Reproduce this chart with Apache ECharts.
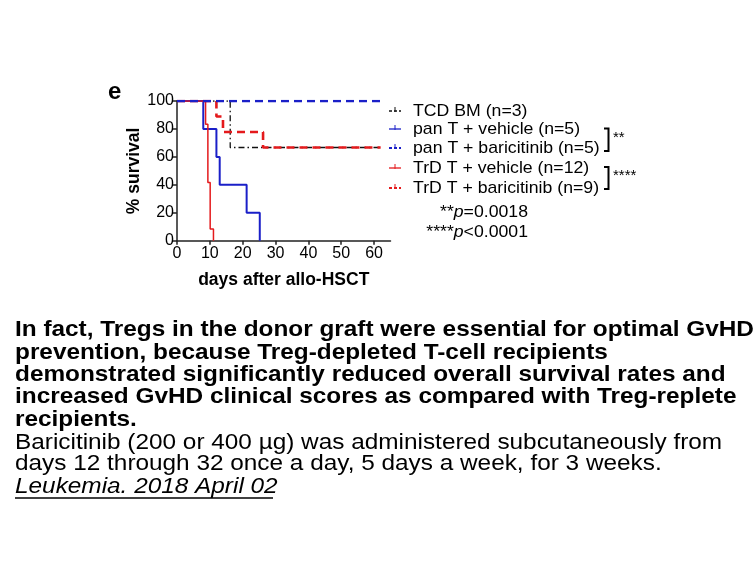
<!DOCTYPE html>
<html><head><meta charset="utf-8">
<script src="https://cdn.jsdelivr.net/npm/echarts@6/dist/echarts.min.js"></script>
<style>html,body{margin:0;padding:0;background:#fff}#c{width:756px;height:567px}</style>
</head><body><div id="c"></div>
<script>
// ---- data ----
const xTicks = [0, 10, 20, 30, 40, 50, 60];
const yTicks = [0, 20, 40, 60, 80, 100];
const tcdDays = [0, 16.2, 62];            const tcdSurv = [100, 66.7, 66.7];
const panVehDays = [0, 8, 12, 13, 21.2, 25.2]; const panVehSurv = [100, 80, 60, 40, 20, 0];
const panBarDays = [0, 62];               const panBarSurv = [100, 100];
const trdVehDays = [0, 8.7, 9.4, 10.1, 11.1]; const trdVehSurv = [100, 83.3, 41.7, 8.3, 0];
const trdBarDays = [0, 12, 14, 26.2, 62]; const trdBarSurv = [100, 88.9, 77.8, 66.7, 66.7];
const legendNames = ['TCD BM (n=3)', 'pan T + vehicle (n=5)', 'pan T + baricitinib (n=5)', 'TrD T + vehicle (n=12)', 'TrD T + baricitinib (n=9)'];
const pTexts = ['**', '****'];
const paraBold = [
  'In fact, Tregs in the donor graft were essential for optimal GvHD',
  'prevention, because Treg-depleted T-cell recipients',
  'demonstrated significantly reduced overall survival rates and',
  'increased GvHD clinical scores as compared with Treg-replete',
  'recipients.'
];
const paraReg = [
  'Baricitinib (200 or 400 µg) was administered subcutaneously from',
  'days 12 through 32 once a day, 5 days a week, for 3 weeks.'
];
const citation = 'Leukemia. 2018 April 02';

const zip = (a, b) => a.map((v, i) => [v, b[i]]);
const BLUE = '#1a1fc8', RED = '#e41a1c', BLACK = '#111';
const F = 'Liberation Sans, Arial, sans-serif';

const chart = echarts.init(document.getElementById('c'), null, {renderer: 'canvas'});

const seriesDefs = [
  {name: legendNames[0], d: zip(tcdDays, tcdSurv), color: BLACK, w: 1.3, type: [6, 3, 1.5, 3]},
  {name: legendNames[1], d: zip(panVehDays, panVehSurv), color: BLUE, w: 2, type: 'solid'},
  {name: legendNames[2], d: zip(panBarDays, panBarSurv), color: BLUE, w: 2.6, type: [8, 5]},
  {name: legendNames[3], d: zip(trdVehDays, trdVehSurv), color: RED, w: 1.5, type: 'solid'},
  {name: legendNames[4], d: zip(trdBarDays, trdBarSurv), color: RED, w: 2.6, type: [8, 5]}
];

const legendY = [111, 129, 148, 168, 188];
const graphics = [];
graphics.push({type: 'text', x: 108, y: 92, style: {text: 'e', font: 'bold 24px ' + F, fill: '#000', textVerticalAlign: 'middle'}});
seriesDefs.forEach((s, i) => {
  const y = legendY[i];
  graphics.push({type: 'line', shape: {x1: 389, y1: y, x2: 401, y2: y},
    style: {stroke: s.color, lineWidth: s.w > 2 ? 2 : 1.3, lineDash: s.type === 'solid' ? null : [3, 2]}});
  graphics.push({type: 'line', shape: {x1: 395, y1: y - 4, x2: 395, y2: y + 1},
    style: {stroke: s.color, lineWidth: 1}});
  graphics.push({type: 'text', x: 413, y: y, scaleX: 1.04,
    style: {text: s.name, font: '17px ' + F, fill: '#000', textVerticalAlign: 'middle'}});
});
// brackets
function bracket(y1, y2, label) {
  graphics.push({type: 'polyline', shape: {points: [[604, y1], [608.5, y1], [608.5, y2], [604, y2]]},
    style: {stroke: '#000', lineWidth: 2, fill: null}});
  graphics.push({type: 'text', x: 613, y: (y1 + y2) / 2 - 2, style: {text: label, font: '15px ' + F, fill: '#000', textVerticalAlign: 'middle'}});
}
bracket(128.5, 151, pTexts[0]);
bracket(167, 189, pTexts[1]);
graphics.push({type: 'text', x: 528, y: 212, scaleX: 1.04, style: {rich: {a: {font: '17px ' + F}, b: {font: 'italic 17px ' + F}}, text: '{a|**}{b|p}{a|=0.0018}', fill: '#000', textVerticalAlign: 'middle', textAlign: 'right'}});
graphics.push({type: 'text', x: 528, y: 232, scaleX: 1.04, style: {rich: {a: {font: '17px ' + F}, b: {font: 'italic 17px ' + F}}, text: '{a|****}{b|p}{a|<0.0001}', fill: '#000', textVerticalAlign: 'middle', textAlign: 'right'}});

const SX = 1.107;
const lineYs = [330, 352.7, 375.3, 397.3, 420];
paraBold.forEach((t, i) => graphics.push({type: 'text', x: 15, y: lineYs[i], scaleX: SX,
  style: {text: t, font: 'bold 22px ' + F, fill: '#000', textVerticalAlign: 'middle'}}));
const regYs = [442.7, 464.3];
paraReg.forEach((t, i) => graphics.push({type: 'text', x: 15, y: regYs[i], scaleX: SX,
  style: {text: t, font: '22px ' + F, fill: '#000', textVerticalAlign: 'middle'}}));
graphics.push({type: 'text', x: 15, y: 486.7, scaleX: SX, style: {text: citation, font: 'italic 22px ' + F, fill: '#000', textVerticalAlign: 'middle'}});
graphics.push({type: 'line', shape: {x1: 15, y1: 498, x2: 273, y2: 498}, style: {stroke: '#000', lineWidth: 1.3}});

chart.setOption({
  animation: false,
  grid: {left: 177, top: 101, width: 213.5, height: 139.7, containLabel: false},
  xAxis: {
    type: 'value', min: 0, max: 65, interval: 10,
    name: 'days after allo-HSCT', nameLocation: 'middle', nameGap: 30,
    nameTextStyle: {fontWeight: 'bold', fontSize: 17.5, fontFamily: F, color: '#000'},
    axisLine: {lineStyle: {color: '#222', width: 1.5}},
    axisTick: {length: 4, lineStyle: {color: '#222', width: 1.5}, customValues: xTicks},
    axisLabel: {customValues: xTicks, fontSize: 16, fontFamily: F, color: '#000', margin: 5},
    splitLine: {show: false}
  },
  yAxis: {
    type: 'value', min: 0, max: 100, interval: 20,
    name: '% survival', nameLocation: 'middle', nameGap: 32,
    nameTextStyle: {fontWeight: 'bold', fontSize: 17.5, fontFamily: F, color: '#000'},
    axisLine: {show: true, lineStyle: {color: '#222', width: 1.5}},
    axisTick: {show: true, length: 4, lineStyle: {color: '#222', width: 1.5}, customValues: yTicks},
    axisLabel: {customValues: yTicks, fontSize: 16, fontFamily: F, color: '#000', margin: 3},
    splitLine: {show: false}
  },
  series: seriesDefs.map((s, i) => ({
    type: 'line', name: s.name, data: s.d, step: 'end', showSymbol: false, symbol: 'none',
    z: [1, 2, 5, 3, 4][i],
    lineStyle: {color: s.color, width: s.w, type: s.type}
  })),
  graphic: graphics
});
</script></body></html>
